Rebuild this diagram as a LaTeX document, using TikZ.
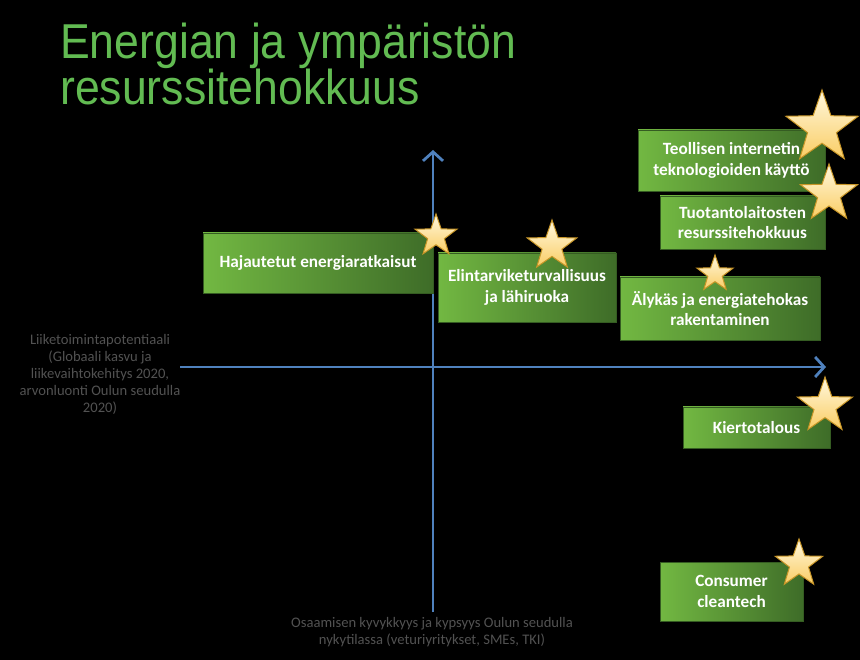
\documentclass[tikz,border=0pt]{standalone}
\usepackage{fontspec}
\usepackage{graphicx}
\setmainfont{Carlito}
\newfontfamily\titlefont{Liberation Sans}
\usetikzlibrary{arrows.meta,shapes.geometric}

\definecolor{titlegreen}{RGB}{98,187,82}
\definecolor{axisblue}{RGB}{79,129,189}
\definecolor{labelgray}{RGB}{82,82,82}
\definecolor{boxlight}{RGB}{114,184,66}
\definecolor{boxdark}{RGB}{62,108,40}
\definecolor{starlight}{RGB}{255,248,222}
\definecolor{stardark}{RGB}{250,205,100}
\definecolor{starline}{RGB}{200,150,40}

\tikzset{
  topic/.style={rectangle, left color=boxlight, right color=boxdark, draw=boxdark!85!black,
    line width=0.8pt, text=white, font=\fontsize{17.2}{20.5}\selectfont\bfseries, align=center, inner sep=0pt},
  award/.style={star, star points=5, star point ratio=2.5, top color=starlight, bottom color=stardark,
    draw=starline, line width=1pt, inner sep=0pt},
  axis/.style={axisblue, line width=2.8pt, -{Straight Barb[length=9pt,width=20pt]}},
  axislabel/.style={text=labelgray, font=\fontsize{14.6}{17}\selectfont, align=center},
  heading/.style={text=titlegreen, font=\titlefont\fontsize{49}{42}\selectfont, align=left, anchor=base west, inner sep=0pt}
}

\begin{document}
\begin{tikzpicture}[x=1pt, y=-1pt]

% Background
\fill[black] (0,0) rectangle (860,660);
\useasboundingbox (0,0) rectangle (860,660);

% Title
\node[heading] (title) at (60,105) {\scalebox{0.91}[1]{Energian ja ympäristön}\\\scalebox{0.91}[1]{resurssitehokkuus}};

% Axes
\coordinate (origin) at (433,367);
\coordinate (ybottom) at (433,612);
\coordinate (ytop) at (433,150);
\coordinate (xleft) at (180,367);
\coordinate (xright) at (826,367);
\draw[axis] (ybottom) -- (ytop);
\draw[axis] (xleft) -- (xright);

% Axis labels
\node[axislabel] (xlabel) at (100,374) {Liiketoimintapotentiaali\\(Globaali kasvu ja\\liikevaihtokehitys 2020,\\arvonluonti Oulun seudulla\\2020)};
\node[axislabel] (ylabel) at (432,632) {Osaamisen kyvykkyys ja kypsyys Oulun seudulla\\nykytilassa (veturiyritykset, SMEs, TKI)};

% Boxes
\node[topic, minimum width=230pt, minimum height=60pt] (hajautetut) at (318,263) {Hajautetut energiaratkaisut};
\node[topic, minimum width=178pt, minimum height=69pt] (elintarvike) at (527,287.5) {Elintarviketurvallisuus\\ja lähiruoka};
\node[topic, minimum width=187pt, minimum height=61pt] (teollisen) at (731.5,160.5) {Teollisen internetin\\teknologioiden käyttö};
\node[topic, minimum width=165pt, minimum height=53pt] (tuotanto) at (742.5,222.5) {Tuotantolaitosten\\resurssitehokkuus};
\node[topic, minimum width=200pt, minimum height=63pt] (alykas) at (720,308.5) {Älykäs ja energiatehokas\\rakentaminen};
\node[topic, minimum width=147pt, minimum height=41pt] (kierto) at (756.5,427.5) {Kiertotalous};
\node[topic, minimum width=143pt, minimum height=59pt] (consumer) at (731.5,591.5) {Consumer\\cleantech};

% Stars
\node[award, minimum size=44pt] (star1) at (436,236) {};
\node[award, minimum size=52pt] (star2) at (552,246) {};
\node[award, minimum size=76pt] (star3) at (822,128) {};
\node[award, minimum size=60pt] (star4) at (829,194) {};
\node[award, minimum size=38pt] (star5) at (715,274) {};
\node[award, minimum size=58pt] (star6) at (825,406) {};
\node[award, minimum size=50pt] (star7) at (799,564) {};

\end{tikzpicture}
\end{document}
